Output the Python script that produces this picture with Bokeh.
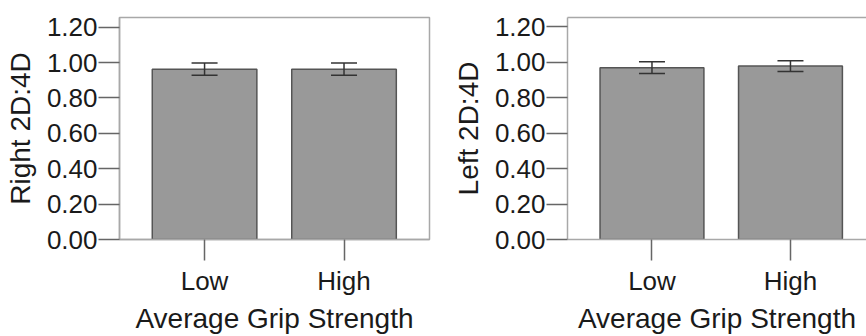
from bokeh.plotting import figure
from bokeh.models import (ColumnDataSource, FixedTicker, LinearAxis, Range1d,
                          Whisker, TeeHead, NumeralTickFormatter)
from bokeh.layouts import row
from bokeh.embed import file_html
from bokeh.resources import INLINE

# ---- data ----
categories = ["Low", "High"]
right_means = [0.963, 0.963]
right_err = [0.035, 0.035]
left_means = [0.968, 0.977]
left_err = [0.033, 0.030]
y_ticks = [0.0, 0.2, 0.4, 0.6, 0.8, 1.0, 1.2]
x_label = "Average Grip Strength"

FONT = "Liberation Sans"
TEXT = "#1a1a1a"
FRAME = "#a8a8a8"
TICK = "#666666"
BAR_FILL = "#999999"
BAR_LINE = "#555555"
ERR = "#333333"


def panel(means, errs, ylabel, width, border_left, border_right, border_top,
          x_end, y_end, outline):
    xs = list(range(1, len(categories) + 1))
    src = ColumnDataSource(dict(
        x=xs, top=means,
        upper=[m + e for m, e in zip(means, errs)],
        lower=[m - e for m, e in zip(means, errs)],
    ))
    p = figure(width=width, height=336, output_backend="svg", toolbar_location=None,
               x_range=Range1d(0.39, x_end), y_range=Range1d(0, y_end),
               min_border_left=border_left, min_border_right=border_right,
               min_border_top=border_top, min_border_bottom=92)
    p.grid.visible = False
    p.background_fill_color = "white"
    p.border_fill_color = "white"
    p.outline_line_color = FRAME if outline else None
    p.outline_line_width = 1.5

    p.vbar(x="x", top="top", bottom=0, width=0.75, source=src,
           fill_color=BAR_FILL, line_color=BAR_LINE, line_width=1.5)
    w = Whisker(base="x", upper="upper", lower="lower", source=src,
                dimension="height", line_color=ERR, line_width=1.5, level="overlay",
                upper_head=TeeHead(size=26, line_color=ERR, line_width=1.5),
                lower_head=TeeHead(size=26, line_color=ERR, line_width=1.5))
    p.add_layout(w)

    ya = p.yaxis[0]
    ya.ticker = FixedTicker(ticks=y_ticks)
    ya.formatter = NumeralTickFormatter(format="0.00")
    ya.major_tick_out = 21
    ya.major_tick_in = 0
    ya.minor_tick_line_color = None
    ya.major_tick_line_color = TICK
    ya.major_tick_line_width = 1.5
    ya.axis_line_color = FRAME
    ya.axis_line_width = 1.5
    ya.major_label_text_font = FONT
    ya.major_label_text_font_size = "26px"
    ya.major_label_text_color = TEXT
    ya.major_label_standoff = 1
    ya.axis_label = ylabel
    ya.axis_label_text_font = FONT
    ya.axis_label_text_font_size = "28px"
    ya.axis_label_text_font_style = "normal"
    ya.axis_label_text_color = TEXT
    ya.axis_label_standoff = 8

    xa = p.xaxis[0]
    xa.ticker = FixedTicker(ticks=xs)
    xa.major_label_overrides = {x: c for x, c in zip(xs, categories)}
    xa.major_tick_out = 21
    xa.major_tick_in = 0
    xa.minor_tick_line_color = None
    xa.major_tick_line_color = TICK
    xa.major_tick_line_width = 1.5
    xa.axis_line_color = FRAME
    xa.axis_line_width = 1.5
    xa.major_label_text_font = FONT
    xa.major_label_text_font_size = "26px"
    xa.major_label_text_color = TEXT
    xa.major_label_standoff = 5
    xa.axis_label = x_label
    xa.axis_label_text_font = FONT
    xa.axis_label_text_font_size = "28px"
    xa.axis_label_text_font_style = "normal"
    xa.axis_label_text_color = TEXT
    xa.axis_label_standoff = 4

    if not outline:
        top = LinearAxis(ticker=FixedTicker(ticks=[]), major_label_text_font_size="0px",
                         axis_line_color=FRAME, axis_line_width=1.5,
                         major_tick_line_color=None, minor_tick_line_color=None)
        p.add_layout(top, "above")
    return p


p1 = panel(right_means, right_err, "Right 2D:4D", 433, 119, 4, 15, 2.613, 1.255, True)
p2 = panel(left_means, left_err, "Left 2D:4D", 433, 134, 0, 17, 2.549, 1.251, False)

p = row(p1, p2)
open("out.html", "w").write(file_html(p, INLINE))
